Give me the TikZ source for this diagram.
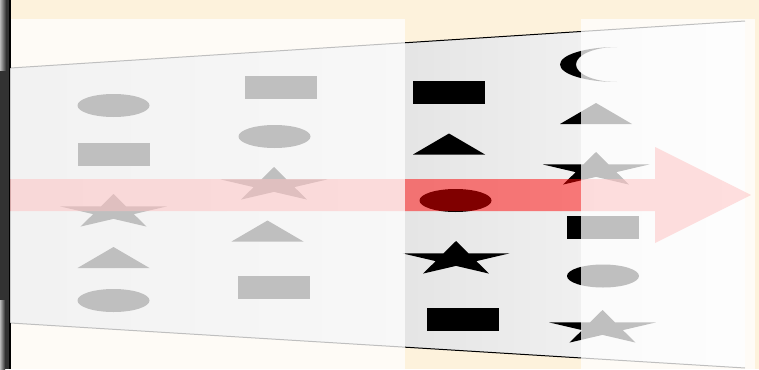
\documentclass[tikz,border=0pt]{standalone}
\usepackage{tikz}

\definecolor{creambg}{RGB}{253,242,220}
\definecolor{funnelleft}{RGB}{204,204,204}
\definecolor{funnelright}{RGB}{250,250,250}
\definecolor{edgestrip}{RGB}{50,50,50}

\tikzset{
	shapefill/.style={fill=black},
	veil/.style={fill=white, fill opacity=0.75},
	flowarrow/.style={fill=red, fill opacity=0.5},
	pics/blob/.style={code={\fill [shapefill] (0,0) ellipse [x radius=36, y radius=11.5];}},
	pics/slab/.style={code={\fill [shapefill] (-36,-11.5) rectangle (36,11.5);}},
	pics/peak/.style={code={\fill [shapefill] (-36,10.5) -- (0,-10.5) -- (36,10.5) -- cycle;}},
	pics/flatstar/.style={code={\fill [shapefill, xscale=56, yscale=18] (-90:1) -- (-54:0.382) -- (-18:1) -- (18:0.382) -- (54:1) -- (90:0.382) -- (126:1) -- (162:0.382) -- (198:1) -- (234:0.382) -- cycle;}},
	pics/moon/.style={code={\fill [shapefill] (21,-17.5) arc [start angle=-90, end angle=-270, x radius=57, y radius=17.5] arc [start angle=90, end angle=270, x radius=41, y radius=17.5] -- cycle;}}
}

\begin{document}
\begin{tikzpicture}[x=1pt, y=-1pt]
		\useasboundingbox (0,0) rectangle (759,369);
		\fill [creambg] (0,0) rectangle (759,369);
		\fill [edgestrip] (0,0) rectangle (9.5,369);
		\shade [left color=gray!55, right color=edgestrip] (0,0) rectangle (6,70);
		\shade [left color=gray!55, right color=edgestrip] (0,300) rectangle (5,369);
		\draw [line width=1.2pt] (10,0) -- (10,369);
		\shade [left color=funnelleft, right color=funnelright] (10.5,68) -- (745,21) -- (745,368) -- (10.5,323) -- cycle;
		\draw [line width=1pt] (10.5,68) -- (745,21);
		\draw [line width=1pt] (10.5,323) -- (745,368);
		\pic at (113.5,105.5) {blob};
		\pic at (113.5,154.5) {slab};
		\pic at (113.5,212) {flatstar};
		\pic at (113.5,257.5) {peak};
		\pic at (113.5,300.5) {blob};
		\pic at (280.5,87.5) {slab};
		\pic at (274.5,136.5) {blob};
		\pic at (274,185) {flatstar};
		\pic at (267.5,231) {peak};
		\pic at (274,287.5) {slab};
		\pic at (449,92.5) {slab};
		\pic at (449,144) {peak};
		\pic at (455.5,200.5) {blob};
		\pic at (456,259) {flatstar};
		\pic at (462.5,319) {slab};
		\pic at (596,64.5) {moon};
		\pic at (596,113.5) {peak};
		\pic at (596,170) {flatstar};
		\pic at (602.5,227.5) {slab};
		\pic at (603,276) {blob};
		\pic at (602.5,328) {flatstar};
		\fill [flowarrow] (10.5,179) -- (655,179) -- (655,147) -- (751,195) -- (655,243) -- (655,211) -- (10.5,211) -- cycle;
		\fill [veil] (10.5,19) rectangle (405,369);
		\fill [veil] (581,19) rectangle (755,369);
	\end{tikzpicture}
\end{document}
